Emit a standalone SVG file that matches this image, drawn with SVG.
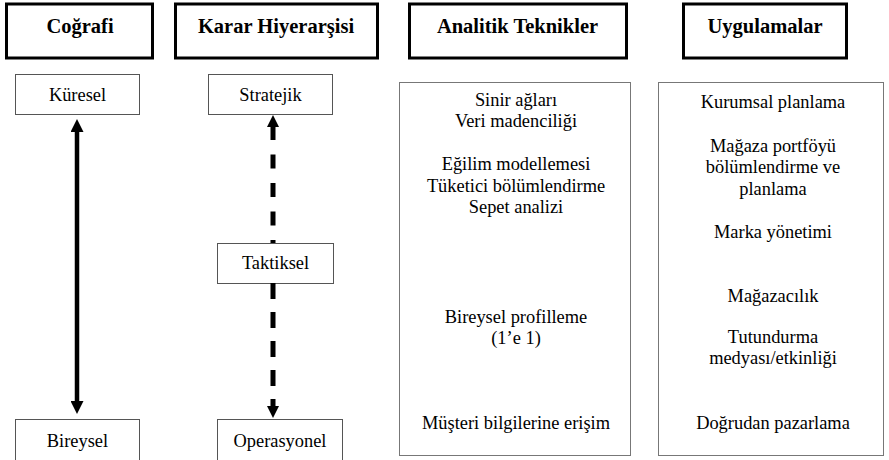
<svg xmlns="http://www.w3.org/2000/svg" width="889" height="460" viewBox="0 0 889 460">
<style>
.hdr{fill:#fff;stroke:#000;stroke-width:3}
.box{fill:#fff;stroke:#555;stroke-width:1}
.big{fill:#fff;stroke:#777;stroke-width:1}
.h{font-family:'Liberation Serif','Times New Roman',serif;font-size:20.5px;font-weight:bold;fill:#000;text-anchor:middle}
.t{font-family:'Liberation Serif','Times New Roman',serif;font-size:18.4px;fill:#000;text-anchor:middle}
.solid{fill:none;stroke:#000;stroke-width:4.5}
.dash{fill:none;stroke:#000;stroke-width:5}
</style>
<defs>
<marker id="ah" markerUnits="userSpaceOnUse" markerWidth="13" markerHeight="13" refX="0" refY="6.5" orient="auto-start-reverse" viewBox="0 0 13 13">
<path d="M0,0 L13,6.5 L0,13 Z" fill="#000"/>
</marker>
<marker id="ah2" markerUnits="userSpaceOnUse" markerWidth="12" markerHeight="12" refX="0" refY="6" orient="auto" viewBox="0 0 12 12">
<path d="M0,0 L12,6 L0,12 Z" fill="#000"/>
</marker>
</defs>
<rect width="889" height="460" fill="#fff"/>
<g id="h-cografi"><rect class="hdr" x="6.5" y="4" width="146" height="54"/><text class="h" x="80" y="33">Coğrafi</text></g>
<g id="h-karar"><rect class="hdr" x="175.5" y="4" width="202" height="54"/><text class="h" x="276" y="33">Karar Hiyerarşisi</text></g>
<g id="h-analitik"><rect class="hdr" x="409.5" y="4" width="217" height="54"/><text class="h" x="517.5" y="33">Analitik Teknikler</text></g>
<g id="h-uygulamalar"><rect class="hdr" x="683.5" y="4" width="163" height="54"/><text class="h" x="765" y="33">Uygulamalar</text></g>
<g id="n-kuresel"><rect class="box" x="15.5" y="74.5" width="124" height="40"/><text class="t" x="77.5" y="101">Küresel</text></g>
<g id="n-bireysel"><rect class="box" x="15.5" y="419.5" width="124" height="60"/><text class="t" x="77.5" y="447">Bireysel</text></g>
<g id="n-stratejik"><rect class="box" x="208.5" y="74.5" width="124" height="40"/><text class="t" x="270.5" y="101">Stratejik</text></g>
<g id="n-taktiksel"><rect class="box" x="217.5" y="243.5" width="116" height="40"/><text class="t" x="275.5" y="269">Taktiksel</text></g>
<g id="n-operasyonel"><rect class="box" x="217.5" y="419.5" width="125" height="60"/><text class="t" x="280" y="447">Operasyonel</text></g>
<g id="n-analitik">
<rect class="big" x="399.5" y="82.5" width="231" height="373"/>
<text class="t" x="516" y="106">Sinir ağları</text>
<text class="t" x="516" y="127">Veri madenciliği</text>
<text class="t" x="516" y="170">Eğilim modellemesi</text>
<text class="t" x="516" y="192">Tüketici bölümlendirme</text>
<text class="t" x="516" y="213">Sepet analizi</text>
<text class="t" x="516" y="323">Bireysel profilleme</text>
<text class="t" x="516" y="344">(1’e 1)</text>
<text class="t" x="516" y="429">Müşteri bilgilerine erişim</text>
</g>
<g id="n-uygulamalar">
<rect class="big" x="658.5" y="82.5" width="225" height="373"/>
<text class="t" x="773" y="108">Kurumsal planlama</text>
<text class="t" x="773" y="152">Mağaza portföyü</text>
<text class="t" x="773" y="173">bölümlendirme ve</text>
<text class="t" x="773" y="195">planlama</text>
<text class="t" x="773" y="238">Marka yönetimi</text>
<text class="t" x="773" y="302">Mağazacılık</text>
<text class="t" x="773" y="343">Tutundurma</text>
<text class="t" x="773" y="364">medyası/etkinliği</text>
<text class="t" x="773" y="429">Doğrudan pazarlama</text>
</g>
<g id="connectors">
<path class="solid" d="M77,132 V401" marker-start="url(#ah)" marker-end="url(#ah)"/>
<path class="dash" d="M273,243 V127" stroke-dasharray="14 14.5" stroke-dashoffset="11" marker-end="url(#ah2)"/>
<path class="dash" d="M273,283 V406" stroke-dasharray="16 13" marker-end="url(#ah2)"/>
</g>
</svg>
